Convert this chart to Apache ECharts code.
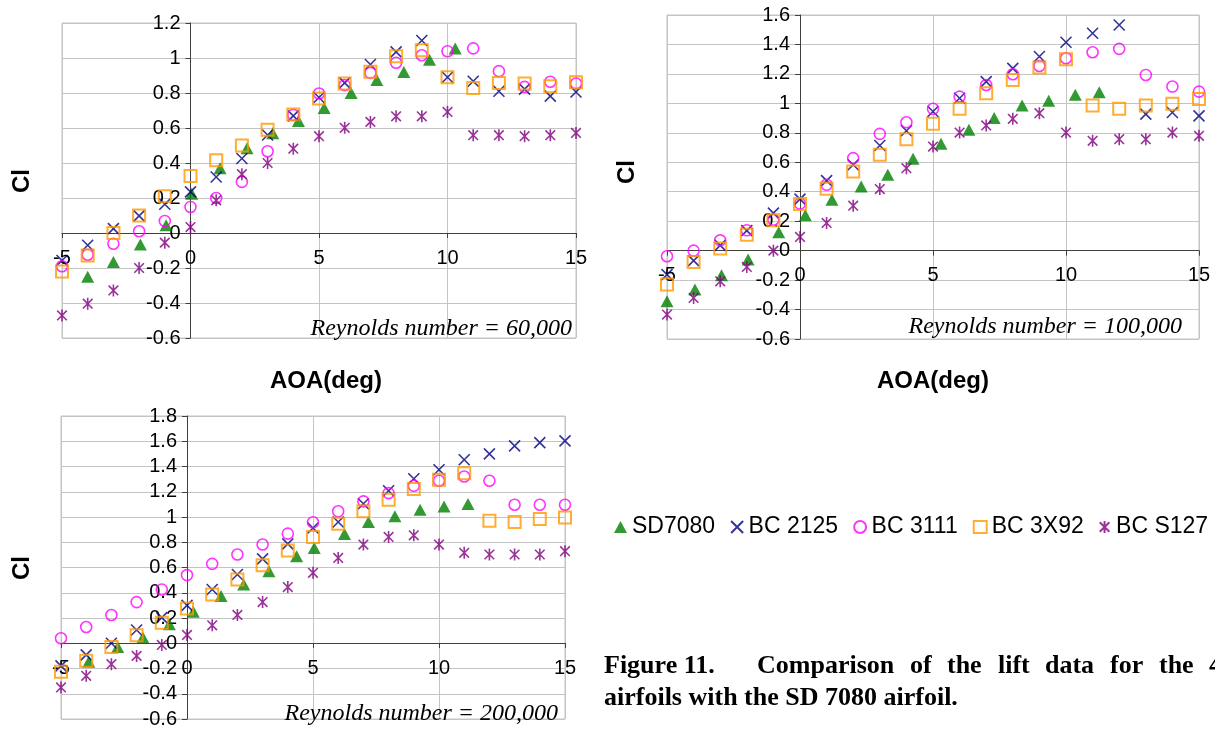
<!DOCTYPE html>
<html>
<head>
<meta charset="utf-8">
<script src="https://cdn.jsdelivr.net/npm/echarts@6/dist/echarts.min.js"></script>
<style>
html,body{margin:0;padding:0;background:#fff;}
#chart{width:1215px;height:729px;}
</style>
</head>
<body>
<div id="chart"></div>
<script>
// ---------- DATA ----------
const airfoils = ['SD7080', 'BC 2125', 'BC 3111', 'BC 3X92', 'BC S127'];
const aoa = [-5,-4,-3,-2,-1,0,1,2,3,4,5,6,7,8,9,10,11,12,13,14,15];
const xTicks = [-5, 0, 5, 10, 15];

// Re = 60,000
const sd60_x = [-4,-3,-1.95,-0.95,0.05,1.15,2.2,3.2,4.2,5.2,6.25,7.25,8.3,9.3,10.3];
const sd60_y = [-0.25,-0.165,-0.065,0.045,0.225,0.37,0.485,0.57,0.64,0.715,0.8,0.875,0.92,0.99,1.055];
const bc2125_60 = [-0.157,-0.07,0.025,0.098,0.164,0.235,0.32,0.426,0.56,0.669,0.774,0.858,0.963,1.035,1.10,0.89,0.867,0.81,0.822,0.782,0.806];
const bc3111_60 = [-0.19,-0.124,-0.061,0.01,0.069,0.149,0.20,0.292,0.467,0.675,0.797,0.845,0.915,0.973,1.016,1.039,1.055,0.925,0.835,0.864,0.854];
const bc3x92_60 = [-0.22,-0.128,0.0,0.10,0.21,0.326,0.416,0.50,0.59,0.677,0.768,0.854,0.921,1.01,1.045,0.89,0.828,0.857,0.854,0.838,0.862];
const bcs127_60 = [-0.471,-0.404,-0.328,-0.2,-0.055,0.034,0.187,0.336,0.40,0.482,0.553,0.601,0.635,0.667,0.667,0.692,0.559,0.559,0.553,0.559,0.572];

// Re = 100,000
const sd100_x = [-5,-3.95,-2.95,-1.95,-0.8,0.2,1.2,2.3,3.3,4.25,5.3,6.35,7.3,8.35,9.35,10.35,11.25];
const sd100_y = [-0.343,-0.264,-0.167,-0.061,0.124,0.24,0.346,0.436,0.515,0.624,0.725,0.82,0.90,0.985,1.017,1.058,1.076];
const bc2125_100 = [-0.163,-0.068,0.036,0.136,0.255,0.35,0.475,0.583,0.714,0.814,0.945,1.035,1.148,1.238,1.318,1.415,1.476,1.532,0.927,0.938,0.915];
const bc3111_100 = [-0.038,0.0,0.07,0.138,0.21,0.319,0.447,0.628,0.793,0.872,0.963,1.046,1.125,1.198,1.254,1.306,1.347,1.37,1.193,1.114,1.08];
const bc3x92_100 = [-0.23,-0.077,0.014,0.108,0.206,0.316,0.42,0.538,0.651,0.757,0.861,0.963,1.069,1.159,1.243,1.299,0.985,0.963,0.985,0.997,1.03];
const bcs127_100 = [-0.434,-0.321,-0.208,-0.111,0.0,0.093,0.188,0.305,0.418,0.56,0.707,0.802,0.85,0.895,0.933,0.802,0.746,0.757,0.757,0.802,0.78];

// Re = 200,000
const sd200_x = [-3.9,-2.75,-1.75,-0.7,0.25,1.35,2.25,3.25,4.35,5.05,6.25,7.2,8.25,9.25,10.2,11.15];
const sd200_y = [-0.147,-0.03,0.045,0.15,0.25,0.374,0.466,0.571,0.69,0.755,0.866,0.96,1.005,1.058,1.084,1.103];
const bc2125_200 = [-0.179,-0.092,0.0,0.105,0.203,0.30,0.426,0.545,0.668,0.787,0.913,0.96,1.105,1.208,1.303,1.374,1.453,1.50,1.563,1.589,1.603];
const bc3111_200 = [0.04,0.129,0.224,0.326,0.426,0.54,0.629,0.703,0.782,0.868,0.958,1.045,1.124,1.189,1.247,1.287,1.321,1.287,1.097,1.097,1.097];
const bc3x92_200 = [-0.226,-0.139,-0.029,0.063,0.163,0.276,0.387,0.505,0.618,0.734,0.842,0.947,1.045,1.137,1.221,1.295,1.347,0.971,0.961,0.984,0.997];
const bcs127_200 = [-0.35,-0.258,-0.166,-0.1,-0.013,0.066,0.142,0.224,0.326,0.445,0.558,0.676,0.782,0.842,0.855,0.782,0.716,0.703,0.703,0.703,0.729];

const reynoldsLabels = ['Reynolds number = 60,000', 'Reynolds number = 100,000', 'Reynolds number = 200,000'];
const yMin = [-0.6, -0.6, -0.6];
const yMax = [1.2, 1.6, 1.8];

// ---------- BUILD ----------
function pairs(xs, ys) { return xs.map((x, i) => [x, ys[i]]); }
const panels = [
  { sd: pairs(sd60_x, sd60_y), a: pairs(aoa, bc2125_60), b: pairs(aoa, bc3111_60), c: pairs(aoa, bc3x92_60), d: pairs(aoa, bcs127_60) },
  { sd: pairs(sd100_x, sd100_y), a: pairs(aoa, bc2125_100), b: pairs(aoa, bc3111_100), c: pairs(aoa, bc3x92_100), d: pairs(aoa, bcs127_100) },
  { sd: pairs(sd200_x, sd200_y), a: pairs(aoa, bc2125_200), b: pairs(aoa, bc3111_200), c: pairs(aoa, bc3x92_200), d: pairs(aoa, bcs127_200) }
];

const SANS = '"Liberation Sans", Arial, sans-serif';
const SERIF = '"Liberation Serif", "Times New Roman", serif';
const CLEAR = 'rgba(0,0,0,0)';

const styles = [
  { symbol: 'triangle', symbolSize: [13, 12], itemStyle: { color: '#008000' } },
  { symbol: 'path://M0,0L10,10M10,0L0,10', symbolSize: 11, itemStyle: { color: CLEAR, borderColor: '#000080', borderWidth: 1.6 } },
  { symbol: 'circle', symbolSize: 11, itemStyle: { color: CLEAR, borderColor: '#ff00ff', borderWidth: 1.6 } },
  { symbol: 'rect', symbolSize: 12, itemStyle: { color: CLEAR, borderColor: '#ff9900', borderWidth: 2 } },
  { symbol: 'path://M1,1L9,9M9,1L1,9M5,0L5,10', symbolSize: 12, itemStyle: { color: CLEAR, borderColor: '#800080', borderWidth: 1.6 } }
];

const grids = [
  { left: 62, top: 23, width: 514, height: 315 },
  { left: 667, top: 15, width: 532, height: 324 },
  { left: 61, top: 416, width: 504, height: 304 }
];

const axisColor = '#404040';
const gridColor = '#c4c4c4';
const xMin = xTicks[0], xMax = xTicks[xTicks.length - 1];

// Axes cross at zero: shift each axis (line, ticks and labels) from the grid edge to the zero of the other axis
function xZeroShift(g, i) { return g.height * (0 - yMin[i]) / (yMax[i] - yMin[i]); }
function yZeroShift(g) { return g.width * (0 - xMin) / (xMax - xMin); }

const option = {
  animation: false,
  backgroundColor: '#fff',
  grid: grids.map(g => Object.assign({ show: true, borderColor: gridColor, borderWidth: 1, containLabel: false }, g)),
  xAxis: grids.map((g, i) => ({
    type: 'value', gridIndex: i, min: xMin, max: xMax, interval: 5, position: 'bottom',
    offset: -xZeroShift(g, i),
    axisLine: { onZero: false, lineStyle: { color: axisColor, width: 1 } },
    axisTick: { show: true, length: 5, lineStyle: { color: axisColor } },
    axisLabel: { color: '#000', fontSize: 20, fontFamily: SANS, margin: 15 },
    splitLine: { show: true, lineStyle: { color: gridColor, width: 1 } }
  })),
  yAxis: grids.map((g, i) => ({
    type: 'value', gridIndex: i, min: yMin[i], max: yMax[i], interval: 0.2, position: 'left',
    offset: -yZeroShift(g),
    axisLine: { onZero: false, lineStyle: { color: axisColor, width: 1 } },
    axisTick: { show: true, length: 5, lineStyle: { color: axisColor } },
    axisLabel: { color: '#000', fontSize: 20, fontFamily: SANS, margin: 10,
      formatter: v => String(Math.round(v * 10) / 10) },
    splitLine: { show: true, lineStyle: { color: gridColor, width: 1 } }
  })),
  legend: {
    left: 614, top: 514, orient: 'horizontal',
    itemWidth: 13, itemHeight: 12, itemGap: 15, padding: 0,
    textStyle: { fontSize: 23, fontFamily: SANS, color: '#000', lineHeight: 26 },
    data: airfoils
  },
  series: [],
  graphic: []
};

panels.forEach((p, i) => {
  [p.sd, p.a, p.b, p.c, p.d].forEach((data, k) => {
    option.series.push(Object.assign({
      type: 'scatter', name: airfoils[k], xAxisIndex: i, yAxisIndex: i,
      data: data, symbolKeepAspect: true, z: 3 + k,
      emphasis: { disabled: true }
    }, JSON.parse(JSON.stringify(styles[k]))));
  });
});

// Text annotations
const g = option.graphic;
const reyPos = [[572, 341], [1182, 339], [558, 726]];
reynoldsLabels.forEach((t, i) => g.push({
  type: 'text', x: reyPos[i][0], y: reyPos[i][1], z: 20,
  style: { text: t, font: 'italic 24px ' + SERIF, fill: '#000', textAlign: 'right', textVerticalAlign: 'bottom' }
}));
const clPos = [[22, 181], [627, 172], [22, 568]];
clPos.forEach(pp => g.push({
  type: 'text', x: pp[0], y: pp[1], rotation: Math.PI / 2,
  style: { text: 'Cl', font: 'bold 24px ' + SANS, fill: '#000', textAlign: 'center', textVerticalAlign: 'middle' }
}));
[[326, 381], [933, 381]].forEach(pp => g.push({
  type: 'text', x: pp[0], y: pp[1],
  style: { text: 'AOA(deg)', font: 'bold 24px ' + SANS, fill: '#000', textAlign: 'center', textVerticalAlign: 'middle' }
}));
// Caption (justified first line)
const capWords = ['Figure 11.', 'Comparison', 'of', 'the', 'lift', 'data', 'for', 'the', '4'];
const capX = [604, 757, 910, 947, 998, 1045, 1110, 1159, 1209];
capWords.forEach((w, i) => g.push({
  type: 'text', x: capX[i], y: 679,
  style: { text: w, font: 'bold 26px ' + SERIF, fill: '#000', textAlign: 'left', textVerticalAlign: 'bottom' }
}));
g.push({
  type: 'text', x: 604, y: 711,
  style: { text: 'airfoils with the SD 7080 airfoil.', font: 'bold 26px ' + SERIF, fill: '#000', textAlign: 'left', textVerticalAlign: 'bottom' }
});

const chart = echarts.init(document.getElementById('chart'), null, { renderer: 'canvas' });
chart.setOption(option);
</script>
</body>
</html>
